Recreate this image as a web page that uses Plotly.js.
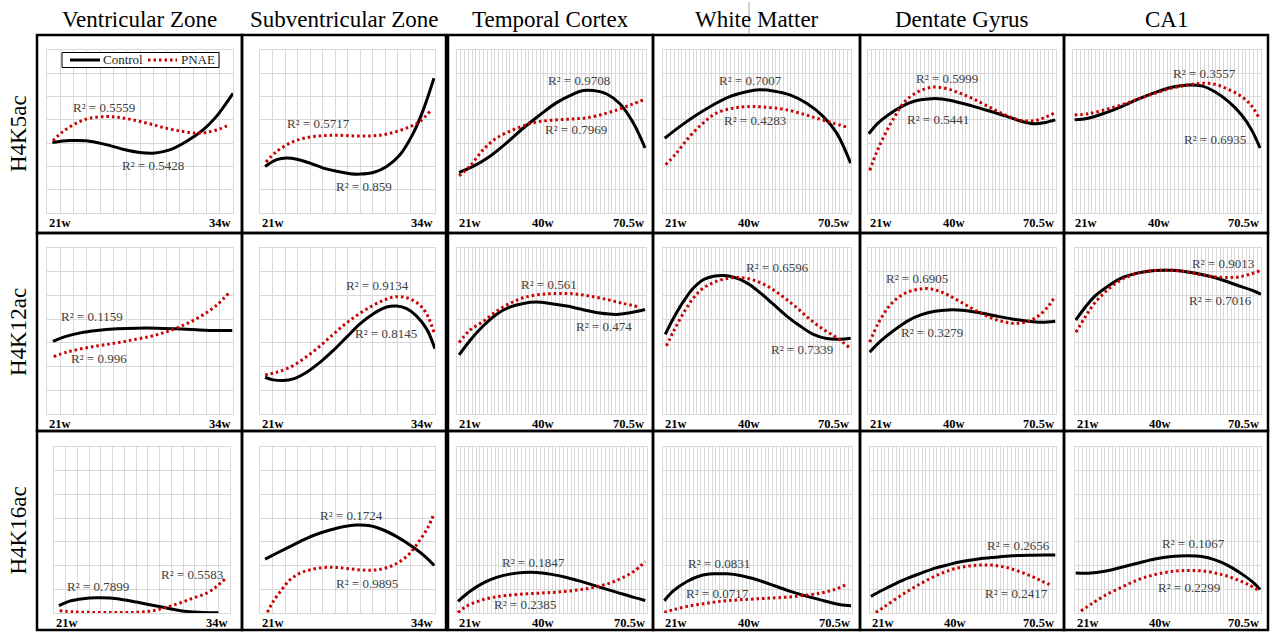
<!DOCTYPE html>
<html>
<head>
<meta charset="utf-8">
<script src="https://cdn.plot.ly/plotly-3.0.1.min.js"></script>
<style>html,body{margin:0;padding:0;background:#fff;}#chart{width:1270px;height:633px;}</style>
</head>
<body>
<div id="chart"></div>
<script>
// ---------------- DATA ----------------
const regions = ["Ventricular Zone", "Subventricular Zone", "Temporal Cortex", "White Matter", "Dentate Gyrus", "CA1"];
const marks = ["H4K5ac", "H4K12ac", "H4K16ac"];
const seriesNames = ["Control", "PNAE"];
const tickLabelsShort = ["21w", "34w"];
const tickPosShort = [0, 100];
const tickLabelsLong = ["21w", "40w", "70.5w"];
const tickPosLong = [0, 45.5, 100];

// x: position along the age axis (0 = first age, 100 = last age), y: relative level
// H4K5ac
const k5_vz_ctrl = [[2.9,3.03],[12.2,3.11],[21.1,3.10],[30.1,2.97],[40.9,2.74],[49.8,2.60],[57.0,2.57],[66.0,2.71],[74.9,3.07],[83.9,3.57],[91.0,4.14],[100,5.14]];
const k5_vz_pnae = [[3.2,3.10],[8.6,3.50],[15.8,3.86],[22.9,4.07],[31.9,4.14],[39.1,4.10],[46.2,4.00],[55.2,3.83],[64.2,3.64],[73.1,3.50],[80.3,3.43],[85.7,3.46],[92.8,3.61],[98.2,3.79]];
const k5_svz_ctrl = [[2.9,2.0],[9.5,2.29],[15.2,2.36],[21.0,2.31],[28.6,2.14],[36.2,1.93],[43.8,1.79],[51.4,1.69],[57.1,1.67],[64.8,1.74],[72.4,2.0],[80.0,2.5],[87.6,3.43],[93.3,4.43],[99.4,5.79]];
const k5_svz_pnae = [[3.4,2.19],[9.5,2.64],[17.1,3.0],[24.8,3.21],[34.3,3.31],[43.8,3.34],[53.3,3.31],[62.9,3.31],[70.5,3.36],[78.1,3.5],[85.7,3.71],[91.4,3.93],[97.1,4.36]];
const k5_tc_ctrl = [[1.1,1.74],[8.5,2.0],[17.3,2.43],[26.1,3.0],[35.0,3.64],[43.8,4.21],[52.7,4.74],[61.5,5.11],[66.8,5.26],[72.1,5.26],[79.2,5.11],[86.2,4.69],[93.3,3.86],[99.5,2.79]];
const k5_tc_pnae = [[1.1,1.6],[6.7,2.0],[13.8,2.71],[20.8,3.21],[29.7,3.57],[36.7,3.79],[43.8,3.93],[52.7,4.0],[61.5,4.04],[70.3,4.11],[79.2,4.29],[86.2,4.47],[93.3,4.69],[98.6,4.86]];
const k5_wm_ctrl = [[0.9,3.21],[8.9,3.71],[17.8,4.21],[26.6,4.64],[35.5,5.0],[44.4,5.21],[51.5,5.29],[58.6,5.24],[67.5,5.07],[76.4,4.71],[85.3,4.14],[92.4,3.43],[99.8,2.14]];
const k5_wm_pnae = [[1.4,2.07],[7.1,2.57],[14.2,3.29],[21.3,3.86],[28.4,4.29],[37.3,4.5],[46.2,4.57],[55.1,4.54],[63.9,4.46],[72.8,4.29],[81.7,4.07],[90.6,3.86],[97.7,3.69]];
const k5_dg_ctrl = [[0.4,3.4],[5.3,3.86],[10.7,4.21],[17.8,4.57],[24.9,4.81],[32.0,4.9],[39.1,4.9],[46.3,4.79],[55.2,4.6],[64.1,4.39],[73.0,4.17],[81.9,3.93],[89.0,3.83],[94.3,3.89],[99.6,4.0]];
const k5_dg_pnae = [[0.9,1.83],[4.4,2.57],[8.9,3.36],[14.2,4.14],[19.6,4.79],[26.7,5.21],[33.8,5.4],[40.9,5.36],[48.0,5.17],[55.2,4.93],[64.1,4.57],[73.0,4.21],[81.9,3.97],[89.0,3.97],[94.3,4.11],[99.6,4.31]];
const k5_ca1_ctrl = [[0.9,4.0],[8.0,4.07],[16.9,4.29],[25.8,4.57],[34.6,4.89],[43.5,5.17],[52.4,5.4],[61.3,5.5],[68.4,5.46],[75.5,5.21],[82.6,4.79],[89.7,4.21],[95.0,3.57],[99.5,2.79]];
const k5_ca1_pnae = [[0.9,4.21],[8.0,4.26],[16.9,4.43],[25.8,4.64],[34.6,4.89],[43.5,5.14],[52.4,5.36],[61.3,5.5],[68.4,5.57],[75.5,5.53],[82.6,5.31],[89.7,5.0],[95.0,4.6],[98.6,4.14]];

// H4K12ac
const k12_vz_ctrl = [[3.2,3.06],[8.9,3.24],[17.9,3.42],[26.8,3.52],[37.5,3.59],[48.2,3.62],[58.9,3.62],[69.6,3.59],[80.4,3.55],[91.1,3.52],[99.6,3.52]];
const k12_vz_pnae = [[3.6,2.42],[10.7,2.61],[19.6,2.77],[28.6,2.89],[37.5,3.0],[46.4,3.13],[55.4,3.27],[62.5,3.42],[69.6,3.62],[76.8,3.87],[83.9,4.18],[91.1,4.58],[98.2,5.14]];
const k12_svz_ctrl = [[2.9,1.55],[7.6,1.44],[13.3,1.41],[19.0,1.48],[26.7,1.76],[34.3,2.18],[41.9,2.68],[49.5,3.24],[57.1,3.80],[64.8,4.23],[72.4,4.51],[78.1,4.55],[83.8,4.44],[89.5,4.13],[95.2,3.59],[100,2.75]];
const k12_svz_pnae = [[2.9,1.65],[9.5,1.76],[17.1,1.97],[24.8,2.32],[32.4,2.75],[40.0,3.24],[47.6,3.73],[55.2,4.15],[62.9,4.51],[70.5,4.79],[76.2,4.93],[81.9,4.93],[87.6,4.79],[92.4,4.51],[96.2,4.08],[99.6,3.38]];
const k12_tc_ctrl = [[1.1,2.49],[6.7,3.08],[13.8,3.71],[20.8,4.20],[27.9,4.51],[35.0,4.66],[42.0,4.72],[49.1,4.66],[58.0,4.55],[66.8,4.40],[75.6,4.26],[84.5,4.20],[91.5,4.27],[99.5,4.41]];
const k12_tc_pnae = [[1.1,3.01],[6.7,3.53],[13.8,3.90],[20.8,4.33],[27.9,4.66],[35.0,4.90],[43.8,5.04],[52.7,5.08],[61.5,5.07],[70.3,4.97],[79.2,4.83],[88.0,4.66],[96.8,4.51]];
const k12_wm_ctrl = [[1.2,3.36],[5.7,4.06],[11.0,4.76],[16.3,5.32],[21.6,5.67],[26.9,5.81],[32.2,5.84],[37.5,5.77],[44.6,5.53],[51.7,5.11],[58.8,4.62],[65.8,4.13],[72.9,3.71],[80.0,3.36],[87.1,3.18],[94.2,3.15],[99.8,3.19]];
const k12_wm_pnae = [[1.8,2.87],[5.7,3.50],[11.0,4.27],[16.3,4.90],[21.6,5.32],[28.7,5.60],[35.8,5.74],[42.8,5.74],[49.9,5.60],[57.0,5.32],[64.1,4.93],[71.2,4.48],[78.2,3.99],[85.3,3.57],[92.4,3.22],[99.1,2.80]];
const k12_dg_ctrl = [[0.9,2.61],[7.1,3.10],[14.2,3.55],[21.4,3.94],[28.5,4.19],[35.6,4.33],[42.7,4.39],[49.8,4.38],[58.7,4.28],[67.6,4.14],[76.5,4.01],[85.4,3.91],[92.5,3.87],[99.6,3.91]];
const k12_dg_pnae = [[0.9,3.03],[5.3,3.80],[10.7,4.49],[16.0,4.91],[21.4,5.15],[26.7,5.26],[32.0,5.29],[37.4,5.19],[42.7,5.01],[49.8,4.70],[56.9,4.38],[64.1,4.10],[71.2,3.91],[78.3,3.82],[85.4,3.91],[90.7,4.14],[96.1,4.56],[99.6,4.98]];
const k12_ca1_ctrl = [[0.4,3.96],[5.4,4.49],[10.8,4.98],[17.9,5.40],[25.1,5.74],[34.1,5.95],[43.0,6.05],[52.0,6.06],[60.6,5.99],[69.5,5.86],[78.5,5.67],[87.5,5.42],[95.0,5.22],[100,5.05]];
const k12_ca1_pnae = [[0.5,3.45],[5.4,4.08],[10.8,4.70],[17.9,5.26],[25.1,5.67],[34.1,5.95],[43.0,6.05],[52.0,6.06],[60.6,5.99],[68.4,5.86],[75.5,5.78],[82.6,5.76],[88.0,5.78],[93.4,5.88],[99.6,6.05]];

// H4K16ac
const k16_vz_ctrl = [[2.8,0.31],[8.9,0.50],[16.5,0.60],[24.1,0.64],[31.7,0.63],[39.3,0.56],[46.9,0.46],[54.5,0.35],[62.0,0.24],[69.6,0.13],[77.2,0.05],[84.8,0.02],[93.4,0.01]];
const k16_vz_pnae = [[3.2,0.10],[10.8,0.05],[18.4,0.03],[27.9,0.02],[37.4,0.02],[46.9,0.03],[56.4,0.10],[63.9,0.24],[71.5,0.42],[79.1,0.63],[86.7,0.84],[92.4,1.12],[97.2,1.44]];
const k16_svz_ctrl = [[2.9,2.27],[9.5,2.52],[17.1,2.80],[24.8,3.08],[32.4,3.32],[40.0,3.50],[47.6,3.64],[55.2,3.71],[62.9,3.68],[70.5,3.50],[78.1,3.22],[85.7,2.87],[93.3,2.45],[99.6,2.0]];
const k16_svz_pnae = [[4.2,0.03],[7.6,0.49],[12.4,0.98],[17.1,1.40],[22.9,1.68],[28.6,1.82],[36.2,1.92],[43.8,1.92],[51.4,1.86],[59.0,1.81],[66.7,1.82],[74.3,1.96],[80.0,2.17],[85.7,2.52],[91.4,3.08],[96.2,3.64],[99.4,4.20]];
const k16_tc_ctrl = [[0.5,0.49],[6.7,0.91],[13.7,1.26],[20.8,1.50],[27.8,1.64],[34.9,1.71],[41.9,1.71],[48.9,1.64],[57.7,1.50],[66.5,1.30],[75.4,1.08],[84.2,0.87],[93.0,0.66],[99.1,0.53]];
const k16_tc_pnae = [[0.5,0.02],[4.9,0.28],[12.0,0.52],[19.0,0.66],[26.1,0.74],[34.9,0.80],[43.7,0.84],[52.5,0.88],[61.3,0.95],[70.1,1.05],[78.9,1.22],[85.9,1.44],[93.0,1.75],[99.1,2.17]];
const k16_wm_ctrl = [[0.7,0.52],[5.6,0.94],[12.7,1.33],[19.8,1.57],[26.8,1.65],[33.9,1.65],[40.9,1.58],[49.7,1.40],[58.6,1.16],[67.4,0.91],[76.2,0.70],[85.0,0.52],[93.8,0.35],[99.5,0.31]];
const k16_wm_pnae = [[0.7,0.02],[5.6,0.14],[12.7,0.28],[21.5,0.39],[30.3,0.49],[39.2,0.55],[48.0,0.59],[56.8,0.63],[65.6,0.67],[74.4,0.74],[83.2,0.84],[90.3,0.98],[97.7,1.22]];
const k16_dg_ctrl = [[0.5,0.70],[6.3,0.95],[13.5,1.23],[20.6,1.48],[27.8,1.69],[35.0,1.89],[42.2,2.04],[49.4,2.17],[58.3,2.28],[67.3,2.35],[76.3,2.41],[85.3,2.44],[94.3,2.45],[99.6,2.45]];
const k16_dg_pnae = [[3.1,0.02],[8.1,0.28],[15.3,0.67],[22.4,1.02],[29.6,1.34],[36.8,1.62],[44.0,1.83],[51.2,1.96],[58.3,2.02],[65.5,2.02],[72.7,1.93],[79.9,1.76],[87.1,1.54],[92.5,1.34],[97.8,1.16]];
const k16_ca1_ctrl = [[0.4,1.69],[7.2,1.68],[16.1,1.76],[25.1,1.93],[34.1,2.11],[43.0,2.28],[52.0,2.38],[60.9,2.41],[68.1,2.38],[75.3,2.24],[82.4,2.00],[89.6,1.65],[95.0,1.34],[99.5,0.99]];
const k16_ca1_pnae = [[3.2,0.08],[9.0,0.39],[16.1,0.74],[25.1,1.09],[34.1,1.41],[43.0,1.62],[52.0,1.75],[60.9,1.79],[69.9,1.76],[78.9,1.62],[86.0,1.44],[93.2,1.20],[99.5,0.91]];

// R² of each trend line (per region, in region order)
const r2_control_H4K5ac = ["0.5428", "0.859", "0.9708", "0.7007", "0.5441", "0.6935"];
const r2_pnae_H4K5ac    = ["0.5559", "0.5717", "0.7969", "0.4283", "0.5999", "0.3557"];
const r2_control_H4K12ac = ["0.1159", "0.8145", "0.474", "0.6596", "0.3279", "0.7016"];
const r2_pnae_H4K12ac    = ["0.996", "0.9134", "0.561", "0.7339", "0.6905", "0.9013"];
const r2_control_H4K16ac = ["0.7899", "0.1724", "0.1847", "0.0831", "0.2656", "0.1067"];
const r2_pnae_H4K16ac    = ["0.5583", "0.9895", "0.2385", "0.0717", "0.2417", "0.2299"];

// ---------------- ASSEMBLY ----------------
const controlCurves = [
  [k5_vz_ctrl, k5_svz_ctrl, k5_tc_ctrl, k5_wm_ctrl, k5_dg_ctrl, k5_ca1_ctrl],
  [k12_vz_ctrl, k12_svz_ctrl, k12_tc_ctrl, k12_wm_ctrl, k12_dg_ctrl, k12_ca1_ctrl],
  [k16_vz_ctrl, k16_svz_ctrl, k16_tc_ctrl, k16_wm_ctrl, k16_dg_ctrl, k16_ca1_ctrl]
];
const pnaeCurves = [
  [k5_vz_pnae, k5_svz_pnae, k5_tc_pnae, k5_wm_pnae, k5_dg_pnae, k5_ca1_pnae],
  [k12_vz_pnae, k12_svz_pnae, k12_tc_pnae, k12_wm_pnae, k12_dg_pnae, k12_ca1_pnae],
  [k16_vz_pnae, k16_svz_pnae, k16_tc_pnae, k16_wm_pnae, k16_dg_pnae, k16_ca1_pnae]
];
const r2Control = [r2_control_H4K5ac, r2_control_H4K12ac, r2_control_H4K16ac];
const r2Pnae = [r2_pnae_H4K5ac, r2_pnae_H4K12ac, r2_pnae_H4K16ac];

// ---------------- LAYOUT GEOMETRY (pixels) ----------------
const W = 1270, H = 633;
const plotX = [
  [[47,233],[260,435],[457,646],[663,851],[868,1056],[1073,1261]],
  [[47,233],[260,435],[457,646],[663,851],[868,1056],[1075,1261]],
  [[54,230],[260,435],[457,647],[663,852],[870,1056],[1075,1261]]
];
const plotY = [[50,213],[248,414],[447,613]];
const gridCols = [[14,14,50,50,50,50],[14,14,50,50,50,50],[15,14,50,50,50,50]];
const frameX = [[37,242],[242,446],[448,653],[653,860],[860,1064],[1064,1268]];
const frameY = [[35,233],[233,431],[431,630]];
// R² label positions [control, pnae] in axis units
const r2Pos = [
  [[[57.0,2.03],[30.5,4.54]], [[59.4,1.14],[33.3,3.86]], [[64.3,5.69],[62.9,3.57]], [[46.5,5.69],[48.8,3.97]], [[37.4,4.03],[41.8,5.79]], [[75.5,3.14],[70.2,6.0]]],
  [[[24.1,4.13],[27.9,2.32]], [[71.8,3.38],[67.0,5.42]], [[77.7,3.71],[48.8,5.46]], [[60.9,6.16],[74.0,2.73]], [[34.0,3.45],[26.0,5.72]], [[78.1,4.77],[79.7,6.33]]],
  [[[25.0,1.12],[78.2,1.61]], [[52.4,4.10],[61.0,1.26]], [[40.0,2.14],[35.7,0.35]], [[29.5,2.10],[28.6,0.84]], [[79.9,2.84],[79.0,0.84]], [[63.6,2.94],[61.3,1.09]]]
];

const serif = "Liberation Serif, Times New Roman, serif";
const ctrlLine = {color: "#000000", width: 3};
const pnaeLine = {color: "#c80000", width: 3, dash: "2.5px,3px"};
const traces = [];
const annotations = [];
const shapes = [];
const layout = {
  width: W, height: H,
  margin: {l: 0, r: 0, t: 0, b: 0},
  paper_bgcolor: "#ffffff", plot_bgcolor: "#ffffff",
  showlegend: false,
  hovermode: false
};

for (let r = 0; r < 3; r++) {
  for (let c = 0; c < 6; c++) {
    const k = r * 6 + c;
    const id = k === 0 ? "" : String(k + 1);
    const xa = "x" + id, ya = "y" + id;
    const ctrl = controlCurves[r][c], pnae = pnaeCurves[r][c];
    traces.push({
      type: "scatter", mode: "lines", name: seriesNames[0],
      x: ctrl.map(p => p[0]), y: ctrl.map(p => p[1]),
      xaxis: xa, yaxis: ya,
      line: Object.assign({shape: "spline", smoothing: 1}, ctrlLine)
    });
    traces.push({
      type: "scatter", mode: "lines", name: seriesNames[1],
      x: pnae.map(p => p[0]), y: pnae.map(p => p[1]),
      xaxis: xa, yaxis: ya,
      line: Object.assign({shape: "spline", smoothing: 1}, pnaeLine)
    });
    const px = plotX[r][c], py = plotY[r];
    layout["xaxis" + id] = {
      domain: [px[0] / W, px[1] / W], range: [0, 100], anchor: ya,
      tickmode: "linear", tick0: 0, dtick: 100 / gridCols[r][c],
      showgrid: true, gridcolor: "#d9d9d9", gridwidth: 1,
      showticklabels: false, ticks: "", zeroline: false,
      showline: true, mirror: true, linecolor: "#d9d9d9", linewidth: 1, fixedrange: true
    };
    layout["yaxis" + id] = {
      domain: [1 - py[1] / H, 1 - py[0] / H], range: [0, 7], anchor: xa,
      tickmode: "linear", tick0: 0, dtick: 1,
      showgrid: true, gridcolor: "#d9d9d9", gridwidth: 1,
      showticklabels: false, ticks: "", zeroline: false,
      showline: true, mirror: true, linecolor: "#d9d9d9", linewidth: 1, fixedrange: true
    };
    // x tick labels
    const labels = c < 2 ? tickLabelsShort : tickLabelsLong;
    const pos = c < 2 ? tickPosShort : tickPosLong;
    labels.forEach((t, i) => {
      annotations.push({
        text: "<b>" + t + "</b>", xref: xa, yref: ya + " domain",
        x: pos[i], y: 0, yanchor: "top", yshift: -1,
        xanchor: i === 0 ? "left" : (i === labels.length - 1 ? "right" : "center"),
        showarrow: false, font: {family: serif, size: 12.5, color: "#000000"}
      });
    });
    // R² labels
    const lp = r2Pos[r][c];
    [[r2Control[r][c], lp[0]], [r2Pnae[r][c], lp[1]]].forEach(([v, p]) => {
      annotations.push({
        text: "R\u00B2 = " + v, xref: xa, yref: ya, x: p[0], y: p[1],
        xanchor: "center", yanchor: "middle", showarrow: false,
        font: {family: serif, size: 13, color: "#404040"}
      });
    });
    // panel frame
    shapes.push({
      type: "rect", xref: "paper", yref: "paper",
      x0: frameX[c][0] / W, x1: frameX[c][1] / W,
      y0: 1 - frameY[r][1] / H, y1: 1 - frameY[r][0] / H,
      line: {color: "#000000", width: 2.5}, fillcolor: "rgba(0,0,0,0)", layer: "above"
    });
  }
}

// legend box (inside first panel)
const lgY = 1 - 60 / H;
shapes.push({type: "rect", xref: "paper", yref: "paper", x0: 62 / W, x1: 219 / W, y0: 1 - 67.5 / H, y1: 1 - 52.5 / H,
  line: {color: "#000000", width: 1}, fillcolor: "#ffffff", layer: "above"});
shapes.push({type: "line", xref: "paper", yref: "paper", x0: 70 / W, x1: 100 / W, y0: lgY, y1: lgY,
  line: ctrlLine, layer: "above"});
shapes.push({type: "line", xref: "paper", yref: "paper", x0: 148 / W, x1: 177 / W, y0: lgY, y1: lgY,
  line: pnaeLine, layer: "above"});
annotations.push({text: seriesNames[0], xref: "paper", yref: "paper", x: 100.5 / W, y: lgY, xanchor: "left", yanchor: "middle",
  showarrow: false, font: {family: serif, size: 13, color: "#262626"}});
annotations.push({text: seriesNames[1], xref: "paper", yref: "paper", x: 178.5 / W, y: lgY, xanchor: "left", yanchor: "middle",
  showarrow: false, font: {family: serif, size: 13, color: "#262626"}});

// column titles
regions.forEach((t, c) => {
  annotations.push({
    text: t, xref: "paper", yref: "paper",
    x: (frameX[c][0] + frameX[c][1]) / 2 / W, y: 1 - 19 / H,
    xanchor: "center", yanchor: "middle", showarrow: false,
    font: {family: serif, size: 23, color: "#000000"}
  });
});
// row labels
marks.forEach((t, r) => {
  annotations.push({
    text: t, xref: "paper", yref: "paper",
    x: 18 / W, y: 1 - (frameY[r][0] + frameY[r][1]) / 2 / H,
    xanchor: "center", yanchor: "middle", textangle: -90, showarrow: false,
    font: {family: serif, size: 23, color: "#000000"}
  });
});
// thin stray line next to the "White Matter" title
shapes.push({type: "line", xref: "paper", yref: "paper", x0: 749 / W, x1: 749 / W, y0: 1 - 33 / H, y1: 1 - 2 / H,
  line: {color: "#a0a0a0", width: 1}});

layout.annotations = annotations;
layout.shapes = shapes;

Plotly.newPlot("chart", traces, layout, {displayModeBar: false, staticPlot: true});
</script>
</body>
</html>
